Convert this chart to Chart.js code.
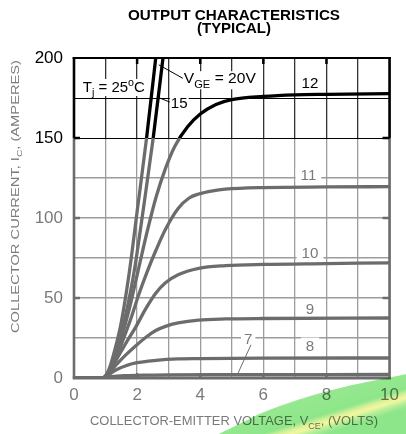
<!DOCTYPE html>
<html>
<head>
<meta charset="utf-8">
<script src="https://cdn.jsdelivr.net/npm/chart.js@4.4.1/dist/chart.umd.min.js"></script>
<style>
  html, body { margin: 0; padding: 0; background: #fff; }
  #c { display: block; }
</style>
</head>
<body>
<canvas id="c" width="406" height="434"></canvas>
<script>
// Collector current I_C (A) vs collector-emitter voltage V_CE (V), one curve per gate voltage.
const vce20 = [0, 0.9, 1.1, 1.3, 1.5, 1.76, 2.0, 2.3, 2.59];
const ic20  = [0, 0, 5, 18, 35, 67, 104, 150, 200];

const vce15 = [0, 0.9, 1.1, 1.3, 1.5, 1.7, 1.91, 2.2, 2.51, 2.82];
const ic15  = [0, 0, 4, 14, 28, 45, 67, 106, 150, 200];

const vce12 = [0, 0.9, 1.1, 1.3, 1.5, 1.75, 2.02, 2.3, 2.6, 2.9, 3.2, 3.6, 4.0, 4.5, 5, 6, 7, 8, 10];
const ic12  = [0, 0, 4, 13, 25, 43, 66, 90, 113, 131, 145, 157, 165, 171, 174, 176, 177, 177.3, 177.7];

const vce11 = [0, 0.9, 1.1, 1.3, 1.5, 1.8, 2.05, 2.33, 2.6, 2.9, 3.3, 3.65, 3.95, 4.4, 4.8, 6, 8, 10];
const ic11  = [0, 0, 3, 11, 21, 37, 52, 67, 80, 93, 106, 112.5, 115, 117, 118, 119, 119.4, 119.6];

const vce10 = [0, 0.92, 1.1, 1.3, 1.65, 1.96, 2.28, 2.59, 2.9, 3.3, 3.95, 4.8, 6, 8, 10];
const ic10  = [0, 0, 4, 10, 22, 32, 43.5, 53, 59.5, 64.5, 68.5, 70.2, 71, 71.5, 72];

const vce9 = [0, 0.92, 1.1, 1.34, 1.65, 1.96, 2.28, 2.59, 2.9, 3.3, 3.95, 4.8, 6, 10];
const ic9  = [0, 0, 3, 8.3, 14.6, 20.2, 25.5, 29.7, 32.3, 34.4, 36.2, 36.9, 37.2, 37.5];

const vce8 = [0, 0.92, 1.1, 1.34, 1.65, 1.96, 2.6, 3.3, 4, 6, 10];
const ic8  = [0, 0, 2, 5.2, 7.7, 9.4, 11, 11.9, 12.1, 12.4, 12.5];

const vce7 = [0, 0.95, 1.2, 1.6, 2.2, 3, 5, 10];
const ic7  = [0, 0, 0.8, 1.4, 1.8, 2, 2.1, 2.2];

const xTickLabels = [0, 2, 4, 6, 8, 10];
const yTickLabels = [0, 50, 100, 150, 200];

const titleLines = ['OUTPUT CHARACTERISTICS', '(TYPICAL)'];

const FONT = '"Liberation Sans", Arial, Helvetica, sans-serif';
const GRAY = '#6c6c6c';
const GRID_GRAY = '#9c9c9c';
const TEXT_GRAY = '#7a7a7a';
const SPLIT = 150;   // the upper band of the sheet is printed in solid black

const pts = (xs, ys) => xs.map((v, i) => ({ x: v, y: ys[i] }));

// Vertical gradient: black above the SPLIT current, grey below it.
function splitColor(chart, upper, lower) {
  const a = chart.chartArea;
  const y = chart.scales && chart.scales.y;
  if (!a || !y) return lower;
  const t = Math.min(1, Math.max(0, (y.getPixelForValue(SPLIT) - a.top) / (a.bottom - a.top)));
  const g = chart.ctx.createLinearGradient(0, a.top, 0, a.bottom);
  g.addColorStop(0, upper);
  g.addColorStop(t, upper);
  g.addColorStop(t, lower);
  g.addColorStop(1, lower);
  return g;
}

function curve(xs, ys) {
  return {
    data: pts(xs, ys),
    borderColor: c => splitColor(c.chart, '#000', GRAY),
    borderWidth: 3.3,
    pointRadius: 0,
    cubicInterpolationMode: 'monotone',
    borderJoinStyle: 'round',
    clip: 0
  };
}

function seg(ctx, x1, y1, x2, y2, color, w) {
  ctx.beginPath();
  ctx.moveTo(x1, y1);
  ctx.lineTo(x2, y2);
  ctx.strokeStyle = color;
  ctx.lineWidth = w;
  ctx.stroke();
}

// Text with sub/superscript runs; optional fixed width and white backing box.
function richText(ctx, parts, x, y, o) {
  const size = o.size, weight = o.weight || 'normal';
  const small = Math.round(size * 0.72);
  const fontFor = k => `${weight} ${k ? small : size}px ${FONT}`;
  let w = 0;
  for (const [t, k] of parts) { ctx.font = fontFor(k); w += ctx.measureText(t).width; }
  const sx = o.width ? o.width / w : (o.sx || 1);
  ctx.save();
  ctx.translate(x, y);
  if (o.rotate) ctx.rotate(o.rotate);
  ctx.scale(sx, 1);
  let cx = o.align === 'center' ? -w / 2 : o.align === 'right' ? -w : 0;
  ctx.textAlign = 'left';
  ctx.textBaseline = 'alphabetic';
  if (o.bg) {
    const p = o.bg;
    ctx.fillStyle = '#fff';
    ctx.fillRect(cx - p[0] / sx, -size * 0.72 - p[1], w + 2 * p[0] / sx, size * 0.72 + p[1] + p[2]);
  }
  ctx.fillStyle = o.color;
  for (const [t, k] of parts) {
    ctx.font = fontFor(k);
    const dy = k === 'sub' ? size * 0.32 : k === 'sup' ? -size * 0.42 : 0;
    ctx.fillText(t, cx, dy);
    cx += ctx.measureText(t).width;
  }
  ctx.restore();
}

const frame = {
  id: 'frame',
  afterDatasetsDraw(chart) {
    const { ctx, chartArea: a, scales: { x, y } } = chart;
    const ySplit = y.getPixelForValue(SPLIT);
    ctx.save();
    ctx.lineCap = 'butt';
    for (const px of [a.left, a.right]) {
      seg(ctx, px, a.top - 1, px, ySplit, '#000', 2.6);
      seg(ctx, px, ySplit, px, a.bottom, GRAY, 2.6);
    }
    seg(ctx, a.left - 1.3, a.top, a.right + 1.3, a.top, '#000', 2);
    seg(ctx, a.left - 1.3, a.bottom, a.right + 1.3, a.bottom, GRAY, 3);
    for (const v of yTickLabels.slice(1, -1)) {
      const py = y.getPixelForValue(v);
      const col = v >= SPLIT ? '#000' : GRAY;
      seg(ctx, a.left, py, a.left + 6, py, col, 2.5);
      seg(ctx, a.right - 7, py, a.right, py, col, 2.5);
    }
    for (const v of xTickLabels.slice(1, -1)) {
      const px = x.getPixelForValue(v);
      seg(ctx, px, a.top, px, a.top + 6, '#000', 2.5);
      seg(ctx, px, a.bottom - 5, px, a.bottom, GRAY, 2.5);
    }
    ctx.restore();
  }
};

const labels = {
  id: 'labels',
  afterDatasetsDraw(chart) {
    const { ctx, scales: { x, y } } = chart;
    const X = v => x.getPixelForValue(v), Y = v => y.getPixelForValue(v);
    ctx.save();

    // chart title
    richText(ctx, [[titleLines[0]]], 234, 19.5, { size: 14, weight: 'bold', align: 'center', width: 212, color: '#000' });
    richText(ctx, [[titleLines[1]]], 234, 33, { size: 14, weight: 'bold', align: 'center', width: 74, color: '#000' });

    // axis titles
    richText(ctx, [['COLLECTOR-EMITTER VOLTAGE, V'], ['CE', 'sub'], [', (VOLTS)']], 90, 425,
      { size: 13, width: 288, color: TEXT_GRAY });
    richText(ctx, [['COLLECTOR CURRENT, I'], ['C', 'sub'], [', (AMPERES)']], 18.5, 196.5,
      { size: 11.5, width: 273, align: 'center', rotate: -Math.PI / 2, color: TEXT_GRAY });

    // leaders
    ctx.lineCap = 'round';
    seg(ctx, X(2.70), Y(195.6), X(3.45), Y(187.3), '#000', 1);
    seg(ctx, X(2.65), Y(175.5), X(3.07), Y(172.2), '#000', 1);
    seg(ctx, X(5.61), Y(20.8), X(5.2), Y(3.1), GRAY, 1);

    // temperature note and gate-voltage labels
    richText(ctx, [['T'], ['j', 'sub'], [' = 25'], ['o', 'sup'], ['C']], X(0.28), Y(178.75),
      { size: 14, width: 62, color: '#000', bg: [2, 3, 4] });
    richText(ctx, [['V'], ['GE', 'sub'], [' = 20V']], X(3.48), Y(184.2),
      { size: 14, width: 72, color: '#000', bg: [1, 2, 6] });
    richText(ctx, [['15']], X(3.07), Y(168.75), { size: 14, sx: 1.08, color: '#000', bg: [1, 1, 1] });
    richText(ctx, [['12']], X(7.48), Y(181.25), { size: 14, sx: 1.08, align: 'center', color: '#000' });
    richText(ctx, [['11']], X(7.43), Y(123.75), { size: 14, sx: 1.08, align: 'center', color: TEXT_GRAY, bg: [5, 2, 2] });
    richText(ctx, [['10']], X(7.48), Y(75.2), { size: 14, sx: 1.08, align: 'center', color: TEXT_GRAY, bg: [5, 2, 3] });
    richText(ctx, [['9']], X(7.48), Y(40), { size: 14, sx: 1.08, align: 'center', color: TEXT_GRAY });
    richText(ctx, [['8']], X(7.48), Y(17.1), { size: 14, sx: 1.08, align: 'center', color: TEXT_GRAY, bg: [5, 3, 1] });
    richText(ctx, [['7']], X(5.52), Y(21.5), { size: 14, sx: 1.08, align: 'center', color: TEXT_GRAY, bg: [3, 3, 1] });
    ctx.restore();
  }
};

// Green/yellow marker stroke across the lower right corner of the sheet.
const marker = {
  id: 'marker',
  afterDraw(chart) {
    const ctx = chart.ctx;
    ctx.save();
    ctx.globalCompositeOperation = 'multiply';
    ctx.beginPath();
    ctx.moveTo(206, 440);
    ctx.quadraticCurveTo(240, 424, 257, 415);
    ctx.quadraticCurveTo(285, 403, 313, 395);
    ctx.quadraticCurveTo(335, 389, 350, 385.5);
    ctx.quadraticCurveTo(380, 379, 412, 373);
    ctx.lineTo(412, 440);
    ctx.closePath();
    const g = ctx.createLinearGradient(313, 394, 331, 451);
    g.addColorStop(0.00, '#c4f0bc');
    g.addColorStop(0.04, '#96e890');
    g.addColorStop(0.38, '#8ee68a');
    g.addColorStop(0.47, '#dcf29a');
    g.addColorStop(0.53, '#f3f6a0');
    g.addColorStop(0.61, '#b4ee98');
    g.addColorStop(0.70, '#8ee68a');
    g.addColorStop(1.00, '#8ee68a');
    ctx.fillStyle = g;
    ctx.fill();
    ctx.restore();
  }
};

new Chart(document.getElementById('c'), {
  type: 'line',
  data: {
    datasets: [
      curve(vce7, ic7), curve(vce8, ic8), curve(vce9, ic9), curve(vce10, ic10),
      curve(vce11, ic11), curve(vce12, ic12), curve(vce15, ic15), curve(vce20, ic20)
    ]
  },
  options: {
    responsive: false,
    animation: false,
    events: [],
    layout: { padding: { top: 58, right: 13, left: 0, bottom: 0 } },
    plugins: { legend: { display: false }, tooltip: { enabled: false }, title: { display: false } },
    scales: {
      x: {
        type: 'linear', min: 0, max: 10,
        afterFit: s => { s.height = 56; },
        border: { display: false },
        grid: { color: c => splitColor(c.chart, '#333', GRID_GRAY), lineWidth: 1.3, drawTicks: false },
        ticks: {
          stepSize: 1, autoSkip: false, maxRotation: 0, padding: 7, color: TEXT_GRAY,
          font: { family: FONT, size: 17 },
          callback: v => xTickLabels.includes(v) ? String(v) : ''
        }
      },
      y: {
        type: 'linear', min: 0, max: 200,
        afterFit: s => { s.width = 74; },
        border: { display: false },
        grid: {
          color: c => (c.tick && c.tick.value >= SPLIT) ? '#000' : GRID_GRAY,
          lineWidth: c => (c.tick && c.tick.value >= SPLIT) ? 1 : 1.5,
          drawTicks: false
        },
        ticks: {
          stepSize: 25, autoSkip: false, padding: 11,
          color: c => (c.tick && c.tick.value >= SPLIT) ? '#000' : TEXT_GRAY,
          font: { family: FONT, size: 17 },
          callback: v => yTickLabels.includes(v) ? String(v) : ''
        }
      }
    }
  },
  plugins: [frame, labels, marker]
});
</script>
</body>
</html>
